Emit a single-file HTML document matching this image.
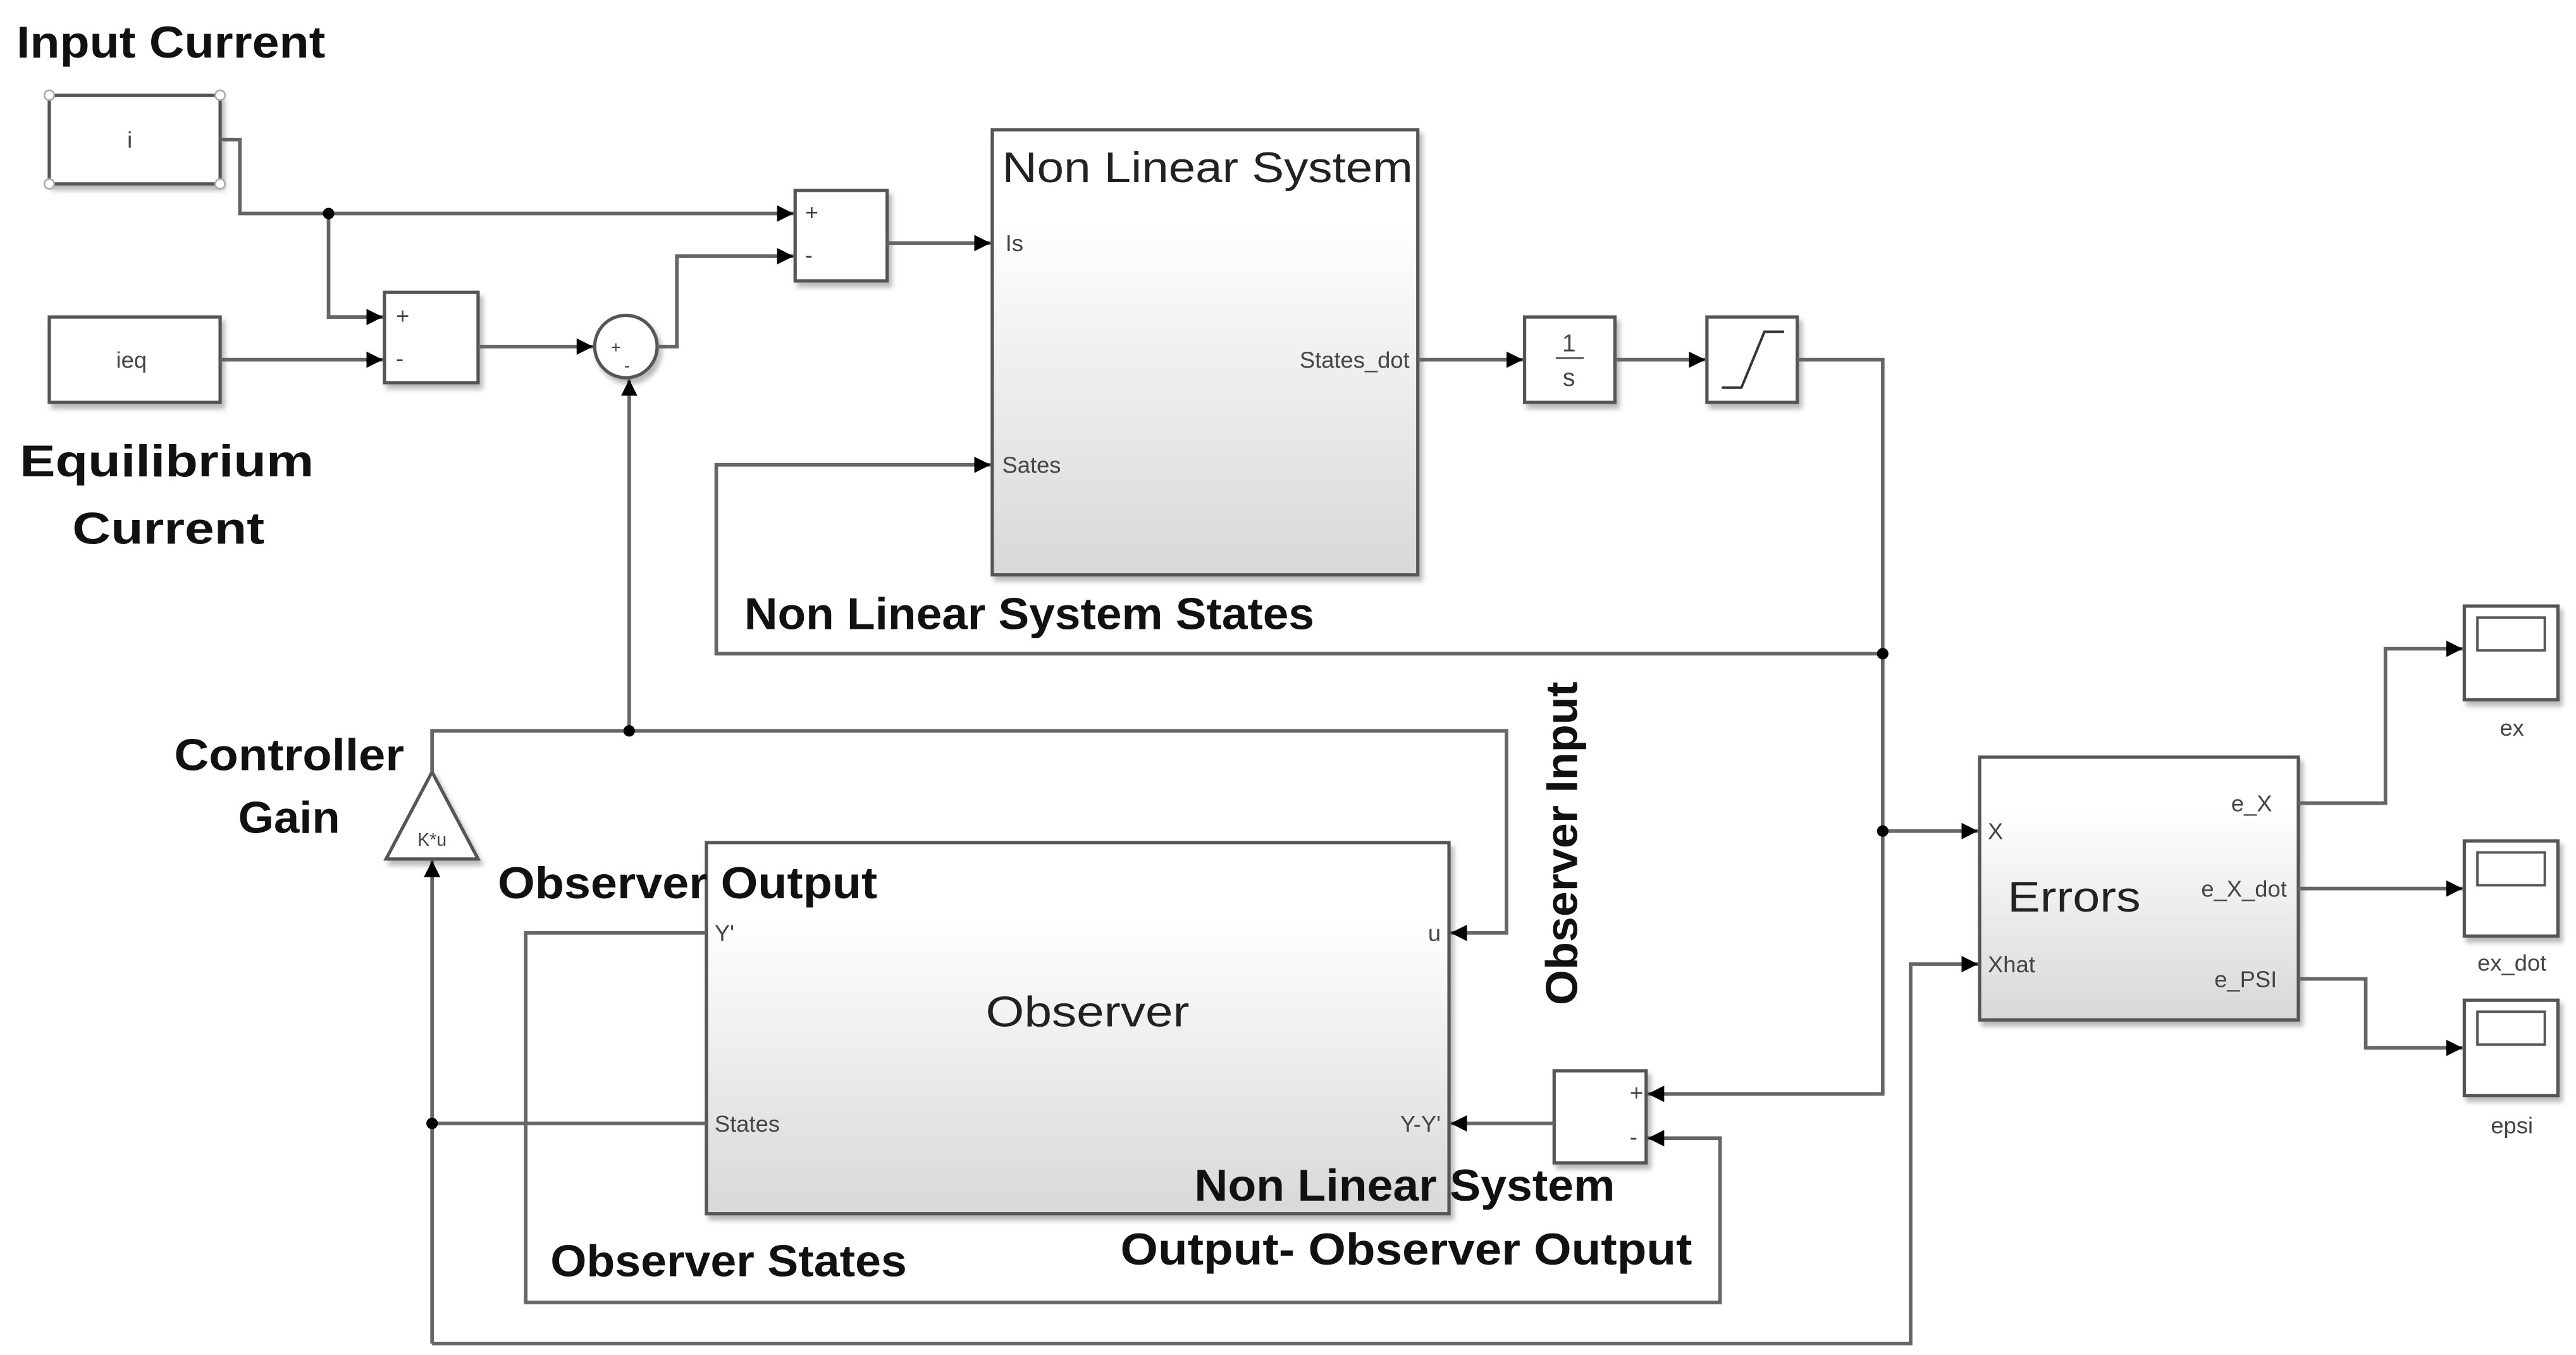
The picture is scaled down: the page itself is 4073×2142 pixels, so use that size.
<!DOCTYPE html>
<html><head><meta charset="utf-8"><style>
html,body{margin:0;padding:0;background:#fff;}
svg{display:block;}
.l{fill:none;stroke:#666;stroke-width:2.2;}
.b{stroke:#555;stroke-width:2;}
.s{font-family:"Liberation Sans",sans-serif;font-size:14px;fill:#444;}
.t{font-family:"Liberation Sans",sans-serif;font-size:26px;fill:#222;}
.k{font-family:"Liberation Sans",sans-serif;font-size:27px;font-weight:bold;fill:#111;}
</style></head><body>
<svg width="4073" height="2142" viewBox="0 0 1568 825" preserveAspectRatio="none" xmlns="http://www.w3.org/2000/svg">
<defs>
<marker id="a" viewBox="0 0 10 10" refX="10" refY="5" markerWidth="10" markerHeight="10" orient="auto" markerUnits="userSpaceOnUse"><path d="M0,0L10,5L0,10z" fill="#000"/></marker>
<linearGradient id="g" x1="0" y1="0" x2="0" y2="1"><stop offset="0.2" stop-color="#fff"/><stop offset="1" stop-color="#d8d8d8"/></linearGradient>
<filter id="sh"><feDropShadow dx="2" dy="3" stdDeviation="1.5" flood-color="#888" flood-opacity="0.6"/></filter>
</defs>
<rect width="1568" height="825" fill="#fff"/>
<g filter="url(#sh)" fill="#fff" class="b">
<rect x="30" y="58" width="104" height="54"/>
<rect x="30" y="193" width="104" height="52"/>
<rect x="234" y="178" width="57" height="55"/>
<rect x="484" y="116" width="56" height="55"/>
<rect x="604" y="79" width="259" height="271" fill="url(#g)"/>
<rect x="928" y="193" width="55" height="52"/>
<rect x="1039" y="193" width="55" height="52"/>
<rect x="1205" y="461" width="194" height="160" fill="url(#g)"/>
<rect x="430" y="513" width="452" height="226" fill="url(#g)"/>
<rect x="946" y="652" width="56" height="56"/>
<rect x="1500" y="369" width="57" height="57"/>
<rect x="1500" y="512" width="57" height="58"/>
<rect x="1500" y="609" width="57" height="58"/>
<circle cx="381" cy="211" r="19"/>
<path d="M263,470 L291,523 L235,523 Z"/>
</g>
<g fill="#fff" stroke="#555" stroke-width="1.5">
<rect x="1508" y="376" width="41" height="20"/>
<rect x="1508" y="519" width="41" height="20"/>
<rect x="1508" y="616" width="41" height="20"/>
</g>
<g fill="#fff" stroke="#aaa" stroke-width="1"><circle cx="30" cy="58" r="3"/><circle cx="134" cy="58" r="3"/><circle cx="30" cy="112" r="3"/><circle cx="134" cy="112" r="3"/></g>
<g class="l" marker-end="url(#a)">
<path d="M134,85H146V130H483"/>
<path d="M200,130V193H233"/>
<path d="M134,219H233"/>
<path d="M291,211H361"/>
<path d="M400,211H412V156H483"/>
<path d="M540,148H603"/>
<path d="M863,219H927"/>
<path d="M983,219H1038"/>
<path d="M1094,219H1146V666H1003"/>
<path d="M1146,398H436V283H603"/>
<path d="M1146,506H1204"/>
<path d="M1399,489H1452V395H1499"/>
<path d="M1399,541H1499"/>
<path d="M1399,596H1440V638H1499"/>
<path d="M263,818H1163V587H1204"/>
<path d="M263,818V524"/>
<path d="M263,470V445H917V568H883"/>
<path d="M383,445V231"/>
<path d="M430,568H320V793H1047V693H1003"/>
<path d="M946,684H883"/>
</g>
<path class="l" d="M263,684H430"/>
<g fill="#000"><circle cx="200" cy="130" r="3.5"/><circle cx="1146" cy="398" r="3.5"/><circle cx="1146" cy="506" r="3.5"/><circle cx="383" cy="445" r="3.5"/><circle cx="263" cy="684" r="3.5"/></g>
<path d="M1048,236 H1060 L1074,202 H1086" fill="none" stroke="#333" stroke-width="1.5"/>
<g class="s">
<text x="79" y="90" text-anchor="middle">i</text>
<text x="80" y="224" text-anchor="middle">ieq</text>
<text x="241" y="197">+</text><text x="241" y="223">-</text>
<text x="490" y="134">+</text><text x="490" y="160">-</text>
<text x="372" y="215" font-size="10">+</text><text x="380" y="226" font-size="10">-</text>
<text x="612" y="153">Is</text>
<text x="610" y="288">Sates</text>
<text x="858" y="224" text-anchor="end">States_dot</text>
<text x="955" y="214" text-anchor="middle" font-size="15">1</text>
<line x1="947" y1="218" x2="964" y2="218" stroke="#444" stroke-width="1"/>
<text x="955" y="235" text-anchor="middle" font-size="15">s</text>
<text x="1210" y="511">X</text>
<text x="1210" y="592">Xhat</text>
<text x="1383" y="494" text-anchor="end">e_X</text>
<text x="1392" y="546" text-anchor="end">e_X_dot</text>
<text x="1386" y="601" text-anchor="end">e_PSI</text>
<text x="1529" y="448" text-anchor="middle">ex</text>
<text x="1529" y="591" text-anchor="middle">ex_dot</text>
<text x="1529" y="690" text-anchor="middle">epsi</text>
<text x="435" y="573">Y'</text>
<text x="877" y="573" text-anchor="end">u</text>
<text x="435" y="689">States</text>
<text x="877" y="689" text-anchor="end">Y-Y'</text>
<text x="992" y="670">+</text><text x="992" y="697">-</text>
<text x="263" y="515" text-anchor="middle" font-size="11">K*u</text>
</g>
<text class="t" x="610" y="111" textLength="250" lengthAdjust="spacingAndGlyphs">Non Linear System</text>
<text class="t" x="1222" y="555" textLength="81" lengthAdjust="spacingAndGlyphs">Errors</text>
<text class="t" x="600" y="625" textLength="124" lengthAdjust="spacingAndGlyphs">Observer</text>
<g class="k">
<text x="10" y="35" textLength="188" lengthAdjust="spacingAndGlyphs">Input Current</text>
<text x="12" y="290" textLength="179" lengthAdjust="spacingAndGlyphs">Equilibrium</text>
<text x="44" y="331" textLength="117" lengthAdjust="spacingAndGlyphs">Current</text>
<text x="453" y="383" textLength="347" lengthAdjust="spacingAndGlyphs">Non Linear System States</text>
<text x="106" y="469" textLength="140" lengthAdjust="spacingAndGlyphs">Controller</text>
<text x="145" y="507" textLength="62" lengthAdjust="spacingAndGlyphs">Gain</text>
<text x="303" y="547" textLength="231" lengthAdjust="spacingAndGlyphs">Observer Output</text>
<text x="727" y="731" textLength="256" lengthAdjust="spacingAndGlyphs">Non Linear System</text>
<text x="682" y="770" textLength="348" lengthAdjust="spacingAndGlyphs">Output- Observer Output</text>
<text x="335" y="777" textLength="217" lengthAdjust="spacingAndGlyphs">Observer States</text>
<text transform="translate(960,612) rotate(-90)" textLength="197" lengthAdjust="spacingAndGlyphs">Observer Input</text>
</g>
</svg>
</body></html>
